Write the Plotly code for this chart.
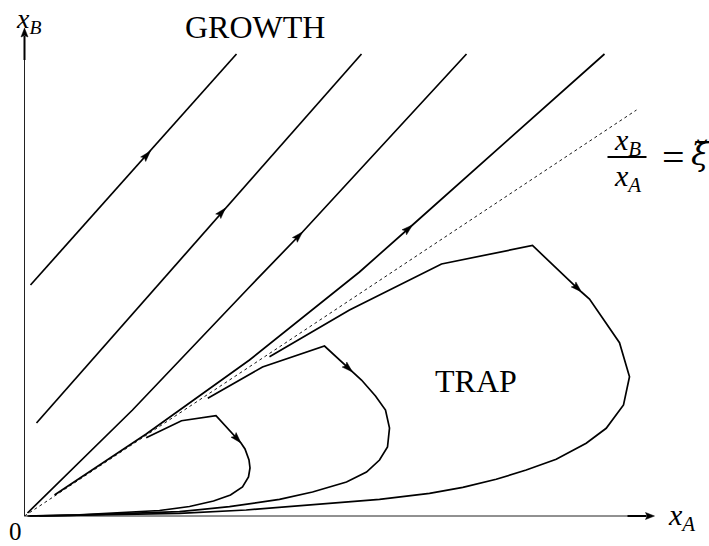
import math
import plotly.graph_objects as go

# ---- trajectories in the (x_A, x_B) phase plane ----
# growth trajectories (above the separatrix)
growth_a_xa = [0.06, 1.26, 2.12]
growth_a_xb = [2.31, 3.65, 4.62]
growth_b_xa = [0.12, 2.01, 3.37]
growth_b_xb = [0.93, 3.08, 4.62]
growth_c_xa = [0.03, 1.08, 2.25, 2.78, 4.42]
growth_c_xb = [0.03, 1.06, 2.29, 2.84, 4.62]
growth_d_xa = [0.30, 1.217, 2.25, 3.35, 3.88, 5.80]
growth_d_xb = [0.21, 0.82, 1.56, 2.44, 2.91, 4.62]

# trapped trajectories (below the separatrix), returning to the origin
trap_s_xa = [1.217, 1.57, 1.915, 2.165, 2.205, 2.245, 2.255, 2.24, 2.18, 2.06,
             1.89, 1.65, 1.35, 0.95, 0.55, 0.20, 0.03]
trap_s_xb = [0.783, 0.953, 1.003, 0.73, 0.67, 0.56, 0.48, 0.39, 0.29, 0.21,
             0.15, 0.095, 0.055, 0.03, 0.012, 0.004, 0.0]
trap_m_xa = [1.833, 2.38, 3.00, 3.28, 3.37, 3.51, 3.61, 3.65, 3.63, 3.55,
             3.42, 3.22, 2.88, 2.55, 2.05, 1.55, 0.95, 0.45, 0.05]
trap_m_xb = [1.177, 1.49, 1.70, 1.44, 1.36, 1.20, 1.06, 0.88, 0.69, 0.56,
             0.44, 0.34, 0.24, 0.167, 0.093, 0.043, 0.02, 0.007, 0.0]
trap_l_xa = [2.45, 3.25, 4.17, 5.08, 5.57, 5.65, 5.95, 6.05, 5.99, 5.88,
             5.817, 5.617, 5.317, 5.017, 4.717, 4.383, 4.05, 3.55, 2.883,
             2.217, 1.55, 0.75, 0.15]
trap_l_xb = [1.593, 2.06, 2.52, 2.705, 2.24, 2.17, 1.733, 1.393, 1.11, 0.96,
             0.877, 0.727, 0.567, 0.46, 0.367, 0.287, 0.227, 0.167, 0.11,
             0.06, 0.027, 0.008, 0.0]

# separatrix x_B / x_A = xi
sep_xa = [0.0, 6.12]
sep_xb = [0.0, 4.06]

# vertex on each trajectory where the direction arrow sits
curves = [
    (growth_a_xa, growth_a_xb, 1),
    (growth_b_xa, growth_b_xb, 1),
    (growth_c_xa, growth_c_xb, 3),
    (growth_d_xa, growth_d_xb, 4),
    (trap_s_xa, trap_s_xb, 3),
    (trap_m_xa, trap_m_xb, 3),
    (trap_l_xa, trap_l_xb, 4),
]

SERIF = "Liberation Serif"
INK = "black"


def arrow_head(x0, y0, x1, y1, length=0.11, width=0.068):
    """Filled, slightly barbed arrowhead with its tip at (x1, y1)."""
    dx, dy = x1 - x0, y1 - y0
    n = math.hypot(dx, dy)
    ux, uy = dx / n, dy / n
    px, py = -uy, ux
    bx, by = x1 - ux * length, y1 - uy * length
    nx, ny = x1 - ux * length * 0.82, y1 - uy * length * 0.82
    pts = [(x1, y1),
           (bx + px * width / 2, by + py * width / 2),
           (nx, ny),
           (bx - px * width / 2, by - py * width / 2)]
    path = "M" + " L".join(f"{a:.4f},{b:.4f}" for a, b in pts) + " Z"
    return dict(type="path", xref="x", yref="y", path=path,
                fillcolor=INK, line=dict(color=INK, width=0.5))


fig = go.Figure()
shapes = []

# axes
fig.add_trace(go.Scatter(x=[0, 6.22], y=[0, 0], mode="lines",
                         line=dict(color="#222", width=1), hoverinfo="skip"))
fig.add_trace(go.Scatter(x=[0, 0], y=[0, 4.80], mode="lines",
                         line=dict(color="#222", width=1), hoverinfo="skip"))
fig.add_trace(go.Scatter(x=[6.03, 6.22], y=[0, 0], mode="lines",
                         line=dict(color=INK, width=2), hoverinfo="skip"))
fig.add_trace(go.Scatter(x=[0, 0], y=[4.56, 4.80], mode="lines",
                         line=dict(color=INK, width=2), hoverinfo="skip"))
shapes.append(arrow_head(6.0, 0, 6.30, 0, length=0.09, width=0.07))
shapes.append(arrow_head(0, 4.5, 0, 4.88, length=0.09, width=0.07))

# separatrix
fig.add_trace(go.Scatter(x=sep_xa, y=sep_xb, mode="lines",
                         line=dict(color=INK, width=0.9, dash="3px,3px"),
                         hoverinfo="skip"))

# trajectories with direction arrows
for xa, xb, k in curves:
    fig.add_trace(go.Scatter(x=xa, y=xb, mode="lines",
                             line=dict(color=INK, width=1.7, shape="linear"),
                             hoverinfo="skip"))
    shapes.append(arrow_head(xa[k - 1], xb[k - 1], xa[k], xb[k]))


def label(text, x, y, size, xanchor="center", yanchor="middle", family=SERIF):
    return dict(text=text, x=x, y=y, xref="x", yref="y", showarrow=False,
                xanchor=xanchor, yanchor=yanchor,
                font=dict(family=family, size=size, color=INK))


annotations = [
    label("GROWTH", 2.30, 4.89, 32),
    label("TRAP", 4.51, 1.35, 32),
    label("<i>x</i><sub><i>B</i></sub>", -0.11, 5.155, 28,
          xanchor="left", yanchor="top"),
    label("<i>x</i><sub><i>A</i></sub>", 6.41, -0.01, 30, xanchor="left"),
    label("0", -0.09, -0.15, 25),
    label("<i>x</i><sub><i>B</i></sub>", 6.03, 3.745, 30),
    label("<i>x</i><sub><i>A</i></sub>", 6.03, 3.385, 30),
    label("=", 6.49, 3.59, 40),
    label("<i>ξ̆</i>", 6.755, 3.62, 32, family="DejaVu Serif"),
]

# fraction bar of x_B / x_A
shapes.append(dict(type="line", xref="x", yref="y", x0=5.83, x1=6.22,
                   y0=3.59, y1=3.59, line=dict(color=INK, width=2)))

fig.update_layout(
    width=709, height=546,
    margin=dict(l=0, r=0, t=0, b=0),
    paper_bgcolor="white", plot_bgcolor="white",
    showlegend=False,
    xaxis=dict(range=[-0.245, 6.845], visible=False, fixedrange=True),
    yaxis=dict(range=[-0.30, 5.16], visible=False, fixedrange=True),
    shapes=shapes,
    annotations=annotations,
)

fig.write_html("out.html")
